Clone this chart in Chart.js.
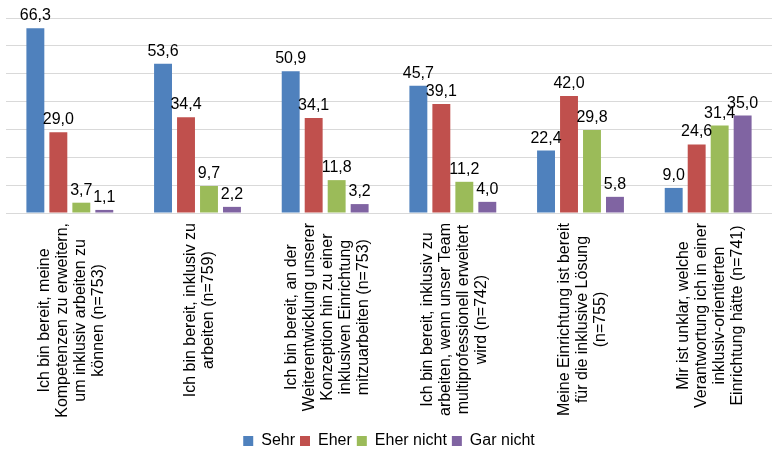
<!DOCTYPE html>
<html>
<head>
<meta charset="utf-8">
<script src="https://cdn.jsdelivr.net/npm/chart.js@4/dist/chart.umd.min.js"></script>
<style>
  html, body {margin: 0; padding: 0; background: #fff;}
  #wrap {width: 772px; height: 451px;}
</style>
</head>
<body>
<div id="wrap"><canvas id="chart"></canvas></div>
<script>
const categories = [
    ['Ich bin bereit, meine', 'Kompetenzen zu erweitern,', 'um inklusiv arbeiten zu', 'können (n=753)'],
    ['Ich bin bereit, inklusiv zu', 'arbeiten (n=759)'],
    ['Ich bin bereit, an der', 'Weiterentwicklung unserer', 'Konzeption hin zu einer', 'inklusiven Einrichtung', 'mitzuarbeiten (n=753)'],
    ['Ich bin bereit, inklusiv zu', 'arbeiten, wenn unser Team', 'multiprofessionell erweitert', 'wird (n=742)'],
    ['Meine Einrichtung ist bereit', 'für die inklusive Lösung', '(n=755)'],
    ['Mir ist unklar, welche', 'Verantwortung ich in einer', 'inklusiv-orientierten', 'Einrichtung hätte (n=741)'],
]
const seriesNames = ['Sehr', 'Eher', 'Eher nicht', 'Gar nicht']
const sehr = [66.3, 53.6, 50.9, 45.7, 22.4, 9.0]
const eher = [29.0, 34.4, 34.1, 39.1, 42.0, 24.6]
const eherNicht = [3.7, 9.7, 11.8, 11.2, 29.8, 31.4]
const garNicht = [1.1, 2.2, 3.2, 4.0, 5.8, 35.0]
const colors = ['#4F81BD', '#C0504D', '#9BBB59', '#8064A2']

const FONT = '"Liberation Sans", Arial, sans-serif'
Chart.defaults.font.family = FONT
Chart.defaults.color = '#000'

const fmt = v => v.toFixed(1).replace('.', ',')

new Chart(document.getElementById('chart'), {
    type: 'bar',
    data: {
        labels: categories,
        datasets: [sehr, eher, eherNicht, garNicht].map((data, i) => ({
            label: seriesNames[i],
            data,
            backgroundColor: colors[i],
            categoryPercentage: 0.72,
            barPercentage: 0.78,
        })),
    },
    options: {
        responsive: true,
        maintainAspectRatio: false,
        animation: false,
        layout: {padding: {top: 18, left: 6, right: 0, bottom: -8}},
        plugins: {
            tooltip: {enabled: false},
            legend: {
                position: 'bottom',
                labels: {
                    boxWidth: 10,
                    boxHeight: 10,
                    padding: 5,
                    font: {size: 16},
                    color: '#000',
                },
            },
        },
        scales: {
            y: {
                min: 0,
                max: 70,
                ticks: {display: false, stepSize: 10},
                border: {display: false},
                grid: {color: '#d9d9d9', drawTicks: false},
            },
            x: {
                ticks: {display: false},
                grid: {display: false},
                border: {color: '#d9d9d9'},
                afterFit: s => { s.height = 215 },
            },
        },
    },
    plugins: [{
        id: 'value-labels',
        afterDatasetsDraw(chart) {
            const {ctx} = chart
            ctx.save()
            ctx.fillStyle = '#000'
            ctx.font = '16px ' + FONT
            ctx.textAlign = 'center'
            ctx.textBaseline = 'alphabetic'
            chart.data.datasets.forEach((ds, di) => {
                chart.getDatasetMeta(di).data.forEach((bar, i) => {
                    ctx.fillText(fmt(ds.data[i]), bar.x, bar.y - 8)
                })
            })
            ctx.restore()
        },
    }, {
        id: 'category-labels',
        afterDraw(chart) {
            const {ctx, scales: {x}} = chart
            const lineH = 18
            ctx.save()
            ctx.fillStyle = '#000'
            ctx.font = '16px ' + FONT
            ctx.textAlign = 'center'
            ctx.textBaseline = 'middle'
            categories.forEach((lines, i) => {
                const cx = x.getPixelForValue(i) + 2
                const maxW = Math.max(...lines.map(l => ctx.measureText(l).width))
                const cy = x.top + 10 + maxW / 2
                lines.forEach((line, j) => {
                    const lx = cx + (j - (lines.length - 1) / 2) * lineH
                    ctx.save()
                    ctx.translate(lx, cy)
                    ctx.rotate(-Math.PI / 2)
                    ctx.fillText(line, 0, 0)
                    ctx.restore()
                })
            })
            ctx.restore()
        },
    }],
})
</script>
</body>
</html>
